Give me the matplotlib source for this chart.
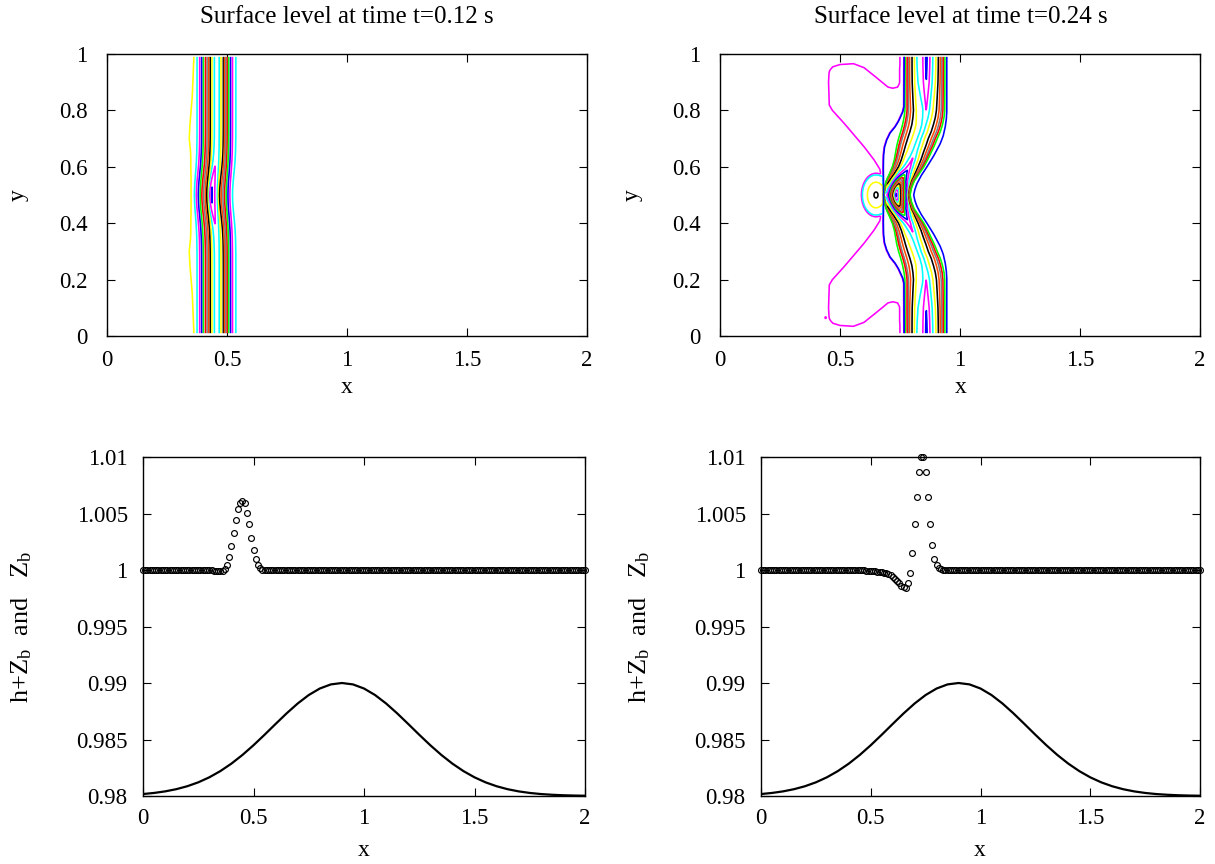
import numpy as np
import matplotlib
matplotlib.use("Agg")
import matplotlib.pyplot as plt

plt.rcParams['font.family'] = ['Liberation Serif', 'DejaVu Serif']
plt.rcParams['mathtext.fontset'] = 'custom'
plt.rcParams['mathtext.rm'] = 'Liberation Serif'
plt.rcParams['mathtext.it'] = 'Liberation Serif:italic'
plt.rcParams['contour.negative_linestyle'] = 'solid'

# ------------------------------------------------------------------ text / ticks
title_left = "Surface level at time t=0.12 s"
title_right = "Surface level at time t=0.24 s"
x_ticks = [0, 0.5, 1, 1.5, 2]
x_ticklabels = ["0", "0.5", "1", "1.5", "2"]
y_ticks_top = [0, 0.2, 0.4, 0.6, 0.8, 1]
y_ticklabels_top = ["0", "0.2", "0.4", "0.6", "0.8", "1"]
y_ticks_bot = [0.98, 0.985, 0.99, 0.995, 1.0, 1.005, 1.01]
y_ticklabels_bot = ["0.98", "0.985", "0.99", "0.995", "1", "1.005", "1.01"]

# ------------------------------------------------------------------ section data (y = 0.5 cut)
x_cells = np.linspace(0.0, 2.0, 201)
surf_t012 = [
    1.0, 1.0, 1.0, 1.0, 1.0, 1.0, 1.0, 1.0, 1.0, 1.0, 1.0, 1.0, 1.0, 1.0, 1.0, 1.0, 1.0, 1.0, 1.0, 1.0,
    1.0, 1.0, 1.0, 1.0, 1.0, 1.0, 1.0, 1.0, 1.0, 1.0, 1.0, 1.0,
    0.99995, 0.9999, 0.99988, 0.99988, 0.9999, 1.00006, 1.00044, 1.00112,
    1.00212, 1.0033, 1.00442, 1.00537, 1.00596, 1.00613, 1.0059, 1.00507, 1.00407, 1.00286,
    1.00177, 1.00095, 1.00044, 1.00015, 1.00004,
    1.0, 1.0, 1.0, 1.0, 1.0, 1.0, 1.0, 1.0, 1.0, 1.0, 1.0, 1.0, 1.0, 1.0, 1.0, 1.0, 1.0, 1.0, 1.0, 1.0,
    1.0, 1.0, 1.0, 1.0, 1.0, 1.0, 1.0, 1.0, 1.0, 1.0, 1.0, 1.0, 1.0, 1.0, 1.0, 1.0, 1.0, 1.0, 1.0, 1.0,
    1.0, 1.0, 1.0, 1.0, 1.0, 1.0, 1.0, 1.0, 1.0, 1.0, 1.0, 1.0, 1.0, 1.0, 1.0, 1.0, 1.0, 1.0, 1.0, 1.0,
    1.0, 1.0, 1.0, 1.0, 1.0, 1.0, 1.0, 1.0, 1.0, 1.0, 1.0, 1.0, 1.0, 1.0, 1.0, 1.0, 1.0, 1.0, 1.0, 1.0,
    1.0, 1.0, 1.0, 1.0, 1.0, 1.0, 1.0, 1.0, 1.0, 1.0, 1.0, 1.0, 1.0, 1.0, 1.0, 1.0, 1.0, 1.0, 1.0, 1.0,
    1.0, 1.0, 1.0, 1.0, 1.0, 1.0, 1.0, 1.0, 1.0, 1.0, 1.0, 1.0, 1.0, 1.0, 1.0, 1.0, 1.0, 1.0, 1.0, 1.0,
    1.0, 1.0, 1.0, 1.0, 1.0, 1.0, 1.0, 1.0, 1.0, 1.0, 1.0, 1.0, 1.0, 1.0, 1.0, 1.0, 1.0, 1.0, 1.0, 1.0,
    1.0, 1.0, 1.0, 1.0, 1.0, 1.0,
]
surf_t024 = [
    1.0, 1.0, 1.0, 1.0, 1.0, 1.0, 1.0, 1.0, 1.0, 1.0, 1.0, 1.0, 1.0, 1.0, 1.0, 1.0, 1.0, 1.0, 1.0, 1.0,
    1.0, 1.0, 1.0, 1.0, 1.0, 1.0, 1.0, 1.0, 1.0, 1.0, 1.0, 1.0, 1.0, 1.0, 1.0, 1.0, 1.0, 1.0, 1.0, 1.0,
    1.0, 1.0, 1.0, 1.0, 1.0,
    0.99998, 0.99997, 0.99996, 0.99995, 0.99994, 0.99993, 0.9999, 0.99988, 0.99986, 0.99983,
    0.9998, 0.99976, 0.99972, 0.99964, 0.99954, 0.99942, 0.99923, 0.99907, 0.99887, 0.99862,
    0.99846, 0.99843, 0.99882, 0.99976, 1.0015, 1.0041, 1.0065, 1.0087, 1.0100, 1.0100,
    1.0087, 1.0065, 1.0041, 1.0022, 1.0010, 1.0004, 1.0002, 1.0001,
    1.0, 1.0, 1.0, 1.0, 1.0, 1.0, 1.0, 1.0, 1.0, 1.0, 1.0, 1.0, 1.0, 1.0, 1.0, 1.0, 1.0, 1.0, 1.0, 1.0,
    1.0, 1.0, 1.0, 1.0, 1.0, 1.0, 1.0, 1.0, 1.0, 1.0, 1.0, 1.0, 1.0, 1.0, 1.0, 1.0, 1.0, 1.0, 1.0, 1.0,
    1.0, 1.0, 1.0, 1.0, 1.0, 1.0, 1.0, 1.0, 1.0, 1.0, 1.0, 1.0, 1.0, 1.0, 1.0, 1.0, 1.0, 1.0, 1.0, 1.0,
    1.0, 1.0, 1.0, 1.0, 1.0, 1.0, 1.0, 1.0, 1.0, 1.0, 1.0, 1.0, 1.0, 1.0, 1.0, 1.0, 1.0, 1.0, 1.0, 1.0,
    1.0, 1.0, 1.0, 1.0, 1.0, 1.0, 1.0, 1.0, 1.0, 1.0, 1.0, 1.0, 1.0, 1.0, 1.0, 1.0, 1.0, 1.0, 1.0, 1.0,
    1.0, 1.0, 1.0, 1.0, 1.0, 1.0, 1.0, 1.0, 1.0, 1.0, 1.0, 1.0, 1.0, 1.0, 1.0, 1.0, 1.0, 1.0,
]
assert len(surf_t012) == 201 and len(surf_t024) == 201

x_bed = np.linspace(0.0, 2.0, 41)
bed = [0.980174, 0.980270, 0.980408, 0.980601, 0.980863, 0.981209, 0.981653, 0.982204,
       0.982865, 0.983633, 0.984493, 0.985420, 0.986376, 0.987316, 0.988187, 0.988936,
       0.989512, 0.989876, 0.990000, 0.989876, 0.989512, 0.988936, 0.988187, 0.987316,
       0.986376, 0.985420, 0.984493, 0.983633, 0.982865, 0.982204, 0.981653, 0.981209,
       0.980863, 0.980601, 0.980408, 0.980270, 0.980174, 0.980110, 0.980067, 0.980040,
       0.980024]

# ------------------------------------------------------------------ 2D surface, t = 0.12 (elevation in 1e-4)
sec1_edge_x = [0.0, 0.3625, 0.375, 0.386, 0.394, 0.401, 0.41, 0.417, 0.423, 0.43, 0.437, 0.447,
               0.458, 0.468, 0.475, 0.485, 0.49, 0.495, 0.501, 0.507, 0.515, 0.523, 0.537, 0.56, 2.0]
sec1_edge_h = [-0.5, 0, 5, 10, 15, 20, 25, 30, 35, 40, 45, 50,
               52, 50, 45, 40, 35, 30, 25, 20, 15, 10, 5, 2, 2]
sec1_mid_x = [0.0, 0.35, 0.364, 0.372, 0.380, 0.388, 0.395, 0.402, 0.409, 0.415, 0.419, 0.421,
              0.436, 0.46, 0.464, 0.469, 0.476, 0.483, 0.49, 0.497, 0.504, 0.512, 0.523, 0.545, 2.0]
sec1_mid_h = [-0.5, 0, 5, 10, 15, 20, 25, 30, 35, 40, 45, 50,
              61, 50, 45, 40, 35, 30, 25, 20, 15, 10, 5, 2, 2]
foot1_y = [0.0, 0.05, 0.15, 0.25, 0.3, 0.35, 0.45, 0.55, 0.65, 0.7, 0.75, 0.85, 0.95, 1.0]
foot1_x = [0.3625, 0.36, 0.355, 0.345, 0.342, 0.348, 0.35, 0.35, 0.348, 0.342, 0.345, 0.355, 0.36, 0.3625]
bend1_dy = [0, 0.025, 0.05, 0.075, 0.1, 0.125, 0.15, 0.175, 0.2, 0.225, 0.25, 0.3, 0.5]
bend1_w = [1, 0.939, 0.779, 0.570, 0.368, 0.210, 0.105, 0.047, 0.018, 0.006, 0.002, 0, 0]
levels1_h = [0.1 + 5 * k for k in range(13)]

# ------------------------------------------------------------------ 2D surface, t = 0.24 (elevation in 1e-4)
footL_y = [0.5, 0.6, 0.64, 0.67, 0.695, 0.72, 0.742, 0.76, 0.778, 0.795, 0.813, 1.0]
footL_x = [0.68, 0.68, 0.681, 0.685, 0.694, 0.708, 0.729, 0.742, 0.752, 0.761, 0.766, 0.767]
footR_y = [0.5, 0.52, 0.541, 0.57, 0.6, 0.64, 0.683, 0.71, 0.742, 0.77, 0.8, 1.0]
footR_x = [0.806, 0.811, 0.82, 0.838, 0.861, 0.89, 0.917, 0.929, 0.9375, 0.942, 0.944, 0.944]
gL_y = [0.5, 0.525, 0.55, 0.575, 0.6, 0.625, 0.65, 0.675, 0.7, 0.725, 0.75, 0.775, 0.8, 1.0]
gL_x = [0.682, 0.685, 0.693, 0.706, 0.718, 0.726, 0.731, 0.736, 0.743, 0.752, 0.760, 0.766, 0.770, 0.772]
gR_y = [0.5, 0.525, 0.55, 0.575, 0.6, 0.625, 0.65, 0.675, 0.7, 0.725, 0.75, 0.775, 0.8, 1.0]
gR_x = [0.792, 0.798, 0.810, 0.830, 0.850, 0.866, 0.880, 0.894, 0.906, 0.919, 0.928, 0.934, 0.937, 0.937]
amp_y = [0.5, 0.55, 0.6, 0.65, 0.7, 0.75, 0.8, 0.85, 0.9, 0.95, 1.0]
amp_v = [36, 35.5, 35, 34.8, 35, 35.5, 37.5, 40, 42.5, 43.5, 44]
blend_y = [0.5, 0.525, 0.55, 0.575, 0.6, 0.65, 0.7]
blend_v = [1, 0.75, 0.45, 0.25, 0.12, 0.04, 0]
front_u = [-0.03, 0.0, 0.018, 0.048, 0.079, 0.109, 0.17, 0.23, 0.291, 0.442, 0.533,
           0.624, 0.697, 0.776, 0.836, 0.873, 0.9, 0.936, 0.973, 1.0, 1.03]
front_edge = [0, 0.057, 0.099, 0.170, 0.284, 0.398, 0.511, 0.625, 0.739, 0.852, 1.0,
              0.852, 0.739, 0.625, 0.511, 0.426, 0.357, 0.251, 0.13, 0.057, 0]
front_center = [0, 0.0625, 0.95, 0.96, 0.965, 0.97, 0.975, 0.985, 0.99, 1.0, 0.995,
                0.985, 0.975, 0.965, 0.955, 0.95, 0.875, 0.675, 0.375, 0.0625, 0]
shelf = 3.0
crest_u = [0.10, 0.164, 0.255, 0.345, 0.418, 0.464, 0.527, 0.618, 0.727, 0.873, 0.95]
crest_v = [0, 0.123, 0.396, 0.679, 0.925, 1.0, 0.925, 0.679, 0.396, 0.123, 0]
crest_dy = [0, 0.01, 0.02, 0.03, 0.045, 0.06, 0.075, 0.09, 0.11, 0.135, 0.16, 0.2, 0.25]
crest_a = [53, 51.5, 47, 41, 30, 20, 12, 7.5, 4.5, 2.7, 1.2, 0.3, 0]
lobe_y = [0.5, 0.55, 0.576, 0.624, 0.671, 0.754, 0.80, 0.819, 0.9, 0.95, 1.0]
lobe_x = [0.69, 0.683, 0.674, 0.639, 0.597, 0.514, 0.465, 0.452, 0.449, 0.452, 0.47]
lobe_top_x = [0.40, 0.45, 0.47, 0.5, 0.556, 0.6, 0.65, 0.7, 0.72, 0.74, 0.748, 0.752, 2.0]
lobe_top_y = [0.92, 0.94, 0.958, 0.966, 0.969, 0.955, 0.921, 0.886, 0.882, 0.886, 0.9, 1.2, 1.2]
lobe_depth = 6.0
trough_c = (0.650, 0.5)
trough_ax = (0.057, 0.072)
trough_r = [0, 0.15, 0.63, 1.0, 1.06, 1.3]
trough_v = [-20.2, -19.5, -14.5, -9.5, -4.5, 0]
speck_xy = (0.44, 0.065)
speck_depth = -7.0

gp_colors = ['#ff0000', '#00ff00', '#0000ff', '#ff00ff', '#00ffff',
             '#ffff00', '#000000', '#ff4d00', '#808080']

# ------------------------------------------------------------------ build fields
xg = np.linspace(0.005, 1.995, 1593)
yg = np.linspace(0.01, 0.99, 393)


def S(z):
    return 0.5 * (1.0 + np.tanh(z))


Z1 = np.zeros((len(yg), len(xg)))
ex, eh = np.array(sec1_edge_x), np.array(sec1_edge_h, float)
mx, mh = np.array(sec1_mid_x), np.array(sec1_mid_h, float)
for j, yv in enumerate(yg):
    s = np.interp(abs(yv - 0.5), bend1_dy, bend1_w)
    X = (1 - s) * ex + s * mx
    X[1] = np.interp(yv, foot1_y, foot1_x)
    Hh = (1 - s) * eh + s * mh
    Z1[j] = np.interp(xg, X, Hh)

Z2 = np.zeros((len(yg), len(xg)))
fe, fc = np.array(front_edge), np.array(front_center)
ef, el = 0.0012, 0.006
ytop = np.interp(xg, lobe_top_x, lobe_top_y)
for j, yv in enumerate(yg):
    q = 0.5 + abs(yv - 0.5)
    fl = np.interp(q, footL_y, footL_x)
    fr = np.interp(q, footR_y, footR_x)
    gl = np.interp(q, gL_y, gL_x)
    gr = np.interp(q, gR_y, gR_x)
    A = np.interp(q, amp_y, amp_v)
    s = np.interp(q, blend_y, blend_v)
    ca = np.interp(q - 0.5, crest_dy, crest_a)
    u = (xg - gl) / (gr - gl)
    E = A * np.interp(u, front_u, (1 - s) * fe + s * fc)
    C = ca * np.interp(u, crest_u, crest_v)
    win = S((xg - fl) / ef) * S((fr - xg) / ef)
    F = (shelf + E + C) * win
    xl = np.interp(q, lobe_y, lobe_x)
    L = -lobe_depth * S((xg - xl) / el) * S((ytop - q) / el)
    r = np.sqrt(((xg - trough_c[0]) / trough_ax[0]) ** 2 + ((yv - trough_c[1]) / trough_ax[1]) ** 2)
    T = np.interp(r, trough_r, trough_v)
    D = (L + T) * (1 - S((xg - fl) / ef))
    Z2[j] = F + D
XX, YY = np.meshgrid(xg, yg)
Z2 += speck_depth * np.exp(-(((XX - speck_xy[0]) / 0.004) ** 2 + ((YY - speck_xy[1]) / 0.004) ** 2))

# ------------------------------------------------------------------ figure
W, H = 1215, 864
fig = plt.figure(figsize=(12.15, 8.64), dpi=100)


def add_ax(l, t, r, b):
    return fig.add_axes([l / W, 1 - b / H, (r - l) / W, (b - t) / H])


ax1 = add_ax(107, 54, 587, 336)
ax2 = add_ax(720, 54, 1200, 336)
ax3 = add_ax(143, 457, 585, 796)
ax4 = add_ax(761, 457, 1200, 796)

CLW = 1.15
# contours t=0.12 (lowest level yellow, colours step backwards through gnuplot cycle)
for k in reversed(range(len(levels1_h))):
    col = gp_colors[(5 - k) % 9]
    ax1.contour(xg, yg, Z1, levels=[levels1_h[k]], colors=[col], linewidths=CLW,
                linestyles='solid')

# contours t=0.24 : depression levels first, then from highest down to the blue base level
order = [-1, -2, -3, -4] + list(range(18, -1, -1))
for k in order:
    col = gp_colors[(2 - k) % 9]
    ax2.contour(xg, yg, Z2, levels=[0.5 + 5 * k], colors=[col], linewidths=CLW,
                linestyles='solid')

for ax in (ax1, ax2):
    ax.set_xlim(0, 2)
    ax.set_ylim(0, 1)
    ax.set_xticks(x_ticks)
    ax.set_xticklabels(x_ticklabels)
    ax.set_yticks(y_ticks_top)
    ax.set_yticklabels(y_ticklabels_top)
    ax.tick_params(axis='x', direction='in', length=6, width=0.8, top=True, pad=10, labelsize=16.5)
    ax.tick_params(axis='y', direction='in', length=6, width=0.8, right=True, pad=14, labelsize=16.5)

for ax, surf in ((ax3, surf_t012), (ax4, surf_t024)):
    ax.plot(x_cells, surf, linestyle='none', marker='o', mfc='none', mec='black',
            ms=4.2, mew=0.85, clip_on=False, zorder=3)
    ax.plot(x_bed, bed, color='black', lw=1.6, zorder=2)
    ax.set_xlim(0, 2)
    ax.set_ylim(0.98, 1.01)
    ax.set_xticks(x_ticks)
    ax.set_xticklabels(x_ticklabels)
    ax.set_yticks(y_ticks_bot)
    ax.set_yticklabels(y_ticklabels_bot)
    ax.tick_params(axis='x', direction='in', length=6, width=0.8, top=True, pad=9, labelsize=16.5)
    ax.tick_params(axis='y', direction='in', length=6, width=0.8, right=True, pad=11, labelsize=16.5)

for ax in (ax1, ax2, ax3, ax4):
    for sp in ax.spines.values():
        sp.set_linewidth(1.0)


def ftext(x, y, s, size=17, va='center', **kw):
    fig.text(x / W, 1 - y / H, s, ha='center', va=va, fontsize=size, **kw)


ftext(347, 17, title_left, size=18)
ftext(961, 17, title_right, size=18)
ftext(347, 387, 'x')
ftext(961, 387, 'x')
ftext(18, 195, 'y', rotation=90)
ftext(632, 195, 'y', rotation=90)
ftext(364, 861, 'x', va='bottom')
ftext(980, 861, 'x', va='bottom')
ylab = r'h+Z$_{\rm b}$  and   Z$_{\rm b}$'
ftext(22, 627, ylab, size=19, rotation=90)
ftext(640, 627, ylab, size=19, rotation=90)

fig.savefig('out.png', dpi=100)
